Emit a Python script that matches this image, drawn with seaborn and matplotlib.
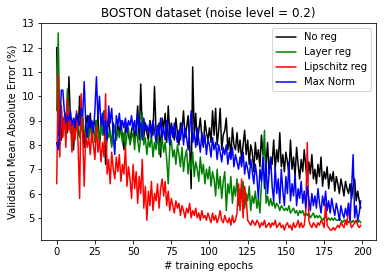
import matplotlib
matplotlib.use("Agg")
import matplotlib.pyplot as plt
import seaborn as sns
import numpy as np
import pandas as pd

# validation MAE per epoch
no_reg = [
    12.0, 8.4, 9.4, 8.2, 9.1, 8.9, 9.3, 8.5, 10.8, 9.0,
    8.3, 7.8, 8.9, 9.2, 8.4, 10.0, 8.6, 9.1, 7.9, 8.8,
    9.2, 8.5, 9.3, 8.1, 8.9, 9.0, 8.4, 9.2, 8.0, 8.7,
    8.9, 9.4, 7.2, 8.6, 9.1, 8.4, 8.0, 8.9, 8.6, 8.2,
    8.8, 8.5, 9.0, 8.3, 7.8, 8.7, 8.9, 8.4, 8.1, 8.6,
    8.9, 8.3, 8.7, 9.6, 8.2, 10.5, 8.6, 8.3, 8.9, 8.5,
    8.2, 9.0, 8.7, 8.4, 10.4, 8.6, 8.2, 8.9, 7.5, 9.1,
    8.7, 9.3, 8.1, 9.6, 8.4, 8.9, 8.6, 8.2, 9.1, 8.5,
    8.0, 8.9, 8.6, 9.4, 8.3, 8.7, 9.2, 8.1, 6.2, 11.2,
    8.4, 9.3, 8.0, 8.6, 9.1, 8.3, 7.9, 9.0, 8.5, 8.2,
    8.7, 8.1, 9.4, 8.4, 9.5, 8.0, 8.6, 9.5, 7.8, 8.4,
    8.6, 9.1, 7.8, 8.3, 7.5, 8.7, 8.0, 7.8, 8.5, 7.7,
    8.2, 7.4, 8.0, 8.6, 7.6, 8.2, 7.2, 8.0, 7.7, 6.9,
    8.1, 7.4, 7.8, 7.1, 8.4, 7.6, 7.9, 7.2, 8.1, 6.8,
    7.5, 7.2, 8.2, 7.0, 7.8, 7.3, 8.5, 7.1, 7.6, 6.9,
    7.7, 7.3, 6.8, 8.2, 7.0, 7.5, 6.7, 7.9, 7.2, 6.6,
    7.4, 6.9, 7.8, 7.1, 6.5, 7.3, 6.8, 7.6, 6.6, 7.0,
    6.4, 7.2, 6.7, 7.5, 6.3, 6.9, 6.6, 7.1, 6.2, 6.8,
    6.5, 6.9, 6.1, 6.7, 6.4, 6.0, 6.6, 6.3, 5.9, 6.5,
    6.2, 6.0, 6.4, 5.8, 6.3, 6.6, 5.7, 6.1, 5.7, 5.4,
]
layer_reg = [
    9.4, 12.6, 8.8, 9.6, 8.4, 9.1, 8.7, 10.3, 9.0, 8.5,
    8.8, 8.2, 9.1, 8.6, 8.9, 8.3, 8.7, 9.2, 8.5, 8.4,
    8.9, 8.3, 8.7, 8.5, 8.8, 8.1, 9.0, 8.6, 8.2, 8.8,
    8.4, 9.4, 8.0, 8.7, 8.3, 8.6, 7.9, 8.5, 8.8, 8.2,
    8.6, 8.3, 8.7, 8.1, 8.5, 7.9, 8.4, 8.7, 8.0, 8.3,
    8.5, 7.8, 8.8, 8.2, 7.7, 8.4, 9.3, 8.0, 8.3, 7.6,
    8.2, 7.9, 8.4, 7.5, 8.1, 7.8, 8.5, 7.6, 8.0, 8.3,
    7.7, 8.1, 7.4, 6.4, 7.9, 8.2, 7.5, 7.8, 7.2, 8.0,
    7.6, 7.1, 7.9, 6.9, 7.5, 7.8, 6.8, 7.4, 7.0, 7.7,
    6.7, 7.3, 7.0, 6.5, 7.5, 6.8, 7.2, 6.4, 7.0, 6.6,
    7.1, 6.3, 6.9, 6.6, 5.9, 7.0, 6.2, 6.7, 5.8, 6.5,
    6.9, 5.3, 6.4, 6.0, 6.7, 5.6, 6.3, 5.9, 6.6, 5.5,
    6.2, 5.8, 6.5, 5.4, 6.0, 5.7, 6.3, 5.3, 5.9, 5.6,
    6.1, 5.4, 5.8, 5.2, 6.4, 7.4, 8.6, 5.6, 5.9, 5.5,
    5.8, 5.5, 5.7, 5.4, 5.6, 5.5, 5.3, 5.5, 5.4, 5.3,
    5.4, 5.3, 5.5, 5.2, 5.3, 5.4, 5.2, 5.3, 5.1, 5.3,
    5.2, 5.3, 5.1, 5.2, 5.1, 5.2, 5.0, 5.1, 5.2, 5.0,
    5.1, 5.0, 5.1, 5.0, 4.9, 5.0, 5.1, 4.9, 5.0, 4.9,
    5.0, 4.9, 5.0, 4.9, 4.9, 5.0, 4.9, 4.8, 4.9, 4.9,
    4.9, 4.8, 4.9, 4.8, 4.9, 4.8, 4.9, 4.8, 4.9, 4.8,
]
lipschitz_reg = [
    6.4, 10.9, 7.5, 9.6, 8.3, 9.2, 7.9, 9.9, 8.6, 9.0,
    7.7, 8.9, 8.2, 9.4, 8.0, 5.8, 10.1, 8.4, 6.3, 8.5,
    7.9, 8.3, 7.6, 8.6, 8.0, 7.4, 8.8, 7.7, 8.2, 7.3,
    8.1, 7.5, 10.1, 6.8, 7.4, 6.4, 7.7, 7.0, 6.6, 7.5,
    6.9, 7.6, 6.5, 7.2, 6.8, 7.9, 6.3, 7.1, 6.6, 5.8,
    7.2, 6.2, 6.9, 5.6, 6.7, 6.0, 7.4, 5.4, 6.3, 4.9,
    6.1, 5.5, 6.5, 5.3, 6.0, 5.7, 6.4, 5.4, 6.2, 6.6,
    5.9, 6.5, 5.5, 6.1, 5.3, 5.8, 5.5, 5.2, 5.7, 5.4,
    5.6, 5.1, 5.5, 5.3, 5.0, 5.4, 5.2, 5.6, 5.0, 5.3,
    5.1, 5.4, 5.0, 5.2, 4.9, 5.3, 5.0, 5.1, 4.9, 5.2,
    5.0, 4.8, 5.2, 4.9, 5.1, 4.8, 5.0, 5.3, 4.9, 4.8,
    5.1, 4.9, 4.8, 5.0, 4.7, 5.1, 4.8, 4.9, 5.2, 6.4,
    5.3, 6.6, 5.0, 6.3, 5.8, 4.9, 4.8, 4.7, 4.9, 4.8,
    4.7, 4.9, 4.8, 4.6, 4.8, 4.7, 4.9, 4.6, 4.7, 4.8,
    4.6, 4.8, 4.7, 4.9, 4.6, 4.7, 4.8, 4.6, 4.7, 4.5,
    4.7, 4.8, 4.6, 4.7, 4.5, 4.8, 4.6, 4.7, 4.9, 4.6,
    4.8, 4.6, 4.7, 5.3, 8.1, 4.9, 4.7, 4.6, 4.8, 4.7,
    4.6, 4.8, 4.7, 4.9, 4.8, 4.6, 5.6, 4.7, 4.6, 4.5,
    4.5, 4.6, 4.5, 4.6, 4.7, 4.6, 4.8, 4.7, 4.6, 4.9,
    4.7, 5.6, 4.8, 4.6, 4.7, 4.8, 4.9, 4.7, 4.6, 4.7,
]
max_norm = [
    8.1, 7.8, 8.6, 10.25, 10.25, 9.4, 8.9, 9.2, 9.0, 9.4,
    8.8, 9.1, 8.7, 9.3, 9.0, 8.8, 9.5, 9.2, 10.6, 8.9,
    8.3, 9.2, 8.7, 9.0, 8.5, 9.4, 10.8, 9.1, 10.0, 8.8,
    9.3, 8.4, 9.0, 8.2, 9.6, 8.9, 9.5, 8.4, 7.6, 9.2,
    8.8, 9.3, 8.6, 9.0, 8.7, 9.1, 8.5, 9.0, 8.8, 9.2,
    8.6, 9.0, 8.4, 9.3, 8.7, 8.9, 8.2, 9.1, 8.6, 8.8,
    8.5, 8.9, 8.3, 9.0, 8.6, 8.1, 8.8, 8.4, 9.1, 8.3,
    8.7, 8.2, 9.0, 8.5, 8.0, 8.8, 8.3, 8.9, 8.4, 8.1,
    8.6, 8.2, 8.9, 8.0, 8.7, 8.3, 7.8, 8.6, 9.4, 8.1,
    8.5, 7.9, 8.7, 8.2, 7.7, 8.5, 8.0, 8.4, 7.6, 8.2,
    8.0, 7.5, 8.3, 7.8, 8.1, 7.4, 8.0, 7.7, 7.3, 7.9,
    7.6, 8.0, 7.2, 7.7, 7.4, 7.9, 7.1, 7.6, 7.3, 7.0,
    7.5, 7.1, 7.7, 6.8, 7.3, 7.0, 6.6, 7.4, 6.9, 6.4,
    7.2, 6.7, 5.8, 7.0, 6.5, 7.5, 6.2, 7.3, 6.0, 6.8,
    7.5, 6.3, 5.7, 7.1, 6.0, 6.6, 5.6, 7.0, 6.1, 5.5,
    6.7, 6.0, 7.3, 5.7, 6.4, 5.9, 6.8, 5.5, 6.2, 5.8,
    6.5, 5.6, 6.1, 5.4, 6.3, 5.8, 5.3, 6.0, 5.5, 5.9,
    5.4, 6.2, 5.6, 5.2, 5.9, 5.5, 6.1, 5.3, 5.7, 5.2,
    5.8, 5.4, 5.1, 5.6, 5.3, 4.9, 5.5, 5.2, 5.0, 5.4,
    5.1, 5.6, 4.9, 6.2, 7.6, 5.0, 5.5, 4.9, 5.2, 5.7,
]
epochs = np.arange(len(no_reg))

series = {
    "No reg": (no_reg, "k"),
    "Layer reg": (layer_reg, "g"),
    "Lipschitz reg": (lipschitz_reg, "r"),
    "Max Norm": (max_norm, "b"),
}

sns.set_style("ticks")
plt.rcParams["font.family"] = ["DejaVu Sans"]
plt.rcParams["text.color"] = "black"
plt.rcParams["axes.labelcolor"] = "black"
plt.rcParams["xtick.color"] = "black"
plt.rcParams["ytick.color"] = "black"
plt.rcParams["axes.edgecolor"] = "black"

fig, ax = plt.subplots(figsize=(386 / 72, 278 / 72), dpi=72)
fig.subplots_adjust(left=0.1075, right=0.974, bottom=0.137, top=0.917)

for name, (vals, col) in series.items():
    df = pd.DataFrame({"epoch": epochs, "mae": vals})
    sns.lineplot(data=df, x="epoch", y="mae", color=col, label=name, linewidth=1.5, ax=ax)

ax.set_title("BOSTON dataset (noise level = 0.2)", fontsize=12)
ax.set_xlabel("# training epochs", fontsize=10)
ax.set_ylabel("Validation Mean Absolute Error (%)", fontsize=10)
ax.set_xticks([0, 25, 50, 75, 100, 125, 150, 175, 200])
ax.set_yticks(range(5, 14))
ax.tick_params(labelsize=10)
ax.legend(loc="upper right", fontsize=10)

fig.savefig("out.png", dpi=72)
